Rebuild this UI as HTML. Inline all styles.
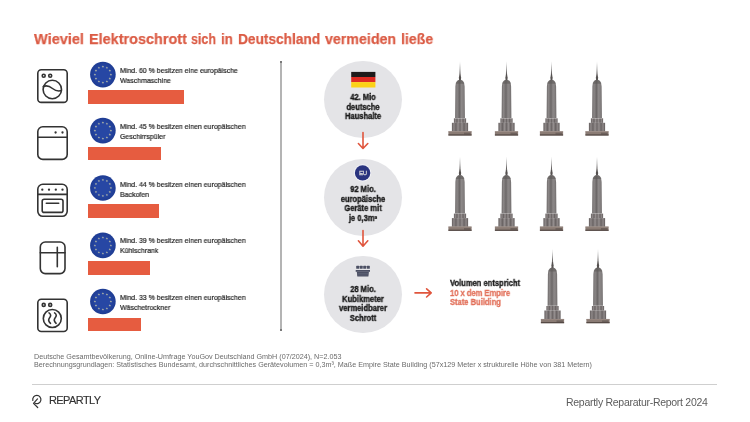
<!DOCTYPE html>
<html><head><meta charset="utf-8">
<style>
*{margin:0;padding:0;box-sizing:border-box}
html,body{width:750px;height:422px;overflow:hidden;background:#fff}
body{position:relative;font-family:"Liberation Sans",sans-serif;color:#333}
.a{position:absolute;white-space:nowrap}
.t{will-change:transform}
.title{transform-origin:0 0;top:29.4px;font-size:15.4px;line-height:20px;font-weight:700;color:#db5c45;-webkit-text-stroke:0.25px #db5c45;}
.rt{left:119.5px;font-size:7.5px;line-height:9.6px;color:#1e1e1e;-webkit-text-stroke:0.2px #1e1e1e;transform:scaleX(0.93);transform-origin:0 0}
.bar{position:absolute;left:88.2px;height:13.6px;background:#e65c40}
.circ{position:absolute;left:324.4px;width:77.2px;height:77.2px;border-radius:50%;background:#e4e4e7}
.ct{position:absolute;left:313px;width:100px;text-align:center;font-size:8.6px;line-height:9.5px;font-weight:700;color:#1a1a1a;-webkit-text-stroke:0.38px #1a1a1a;transform:scaleX(0.88);transform-origin:50% 0}
.foot{left:34px;font-size:7.2px;line-height:8.2px;color:#6a6a6a}
</style></head><body>

<div class="a title t" style="left:34.00px;transform:scaleX(0.946)">Wieviel</div>
<div class="a title t" style="left:89.46px;transform:scaleX(0.938)">Elektroschrott</div>
<div class="a title t" style="left:191.09px;transform:scaleX(0.810)">sich</div>
<div class="a title t" style="left:220.53px;transform:scaleX(0.867)">in</div>
<div class="a title t" style="left:237.71px;transform:scaleX(0.889)">Deutschland</div>
<div class="a title t" style="left:325.40px;transform:scaleX(0.924)">vermeiden</div>
<div class="a title t" style="left:400.68px;transform:scaleX(0.918)">ließe</div>


<div class="a rt t" style="top:65.75px">Mind. 60 % besitzen eine europäische<br>Waschmaschine</div>
<div class="bar" style="top:90.0px;width:96.3px"></div>
<div class="a rt t" style="top:121.85px">Mind. 45 % besitzen einen europäischen<br>Geschirrspüler</div>
<div class="bar" style="top:146.5px;width:72.4px"></div>
<div class="a rt t" style="top:179.65px">Mind. 44 % besitzen einen europäischen<br>Backofen</div>
<div class="bar" style="top:204.2px;width:70.7px"></div>
<div class="a rt t" style="top:236.45px">Mind. 39 % besitzen einen europäischen<br>Kühlschrank</div>
<div class="bar" style="top:261.3px;width:62.3px"></div>
<div class="a rt t" style="top:292.95px">Mind. 33 % besitzen einen europäischen<br>Wäschetrockner</div>
<div class="bar" style="top:317.5px;width:52.8px"></div>

<div class="a" style="left:280px;top:61.3px;width:2px;height:269.3px;background:#b4b4b4"></div>
<div class="a" style="left:279.6px;top:61px;width:2.8px;height:1.8px;background:#666;border-radius:1px"></div>
<div class="a" style="left:279.6px;top:329px;width:2.8px;height:1.8px;background:#666;border-radius:1px"></div>

<div class="circ" style="top:61.3px"></div>
<div class="circ" style="top:158.5px"></div>
<div class="circ" style="top:255.5px"></div>

<svg class="a" style="left:0;top:0" width="750" height="422" viewBox="0 0 750 422">
<defs>
 <radialGradient id="eub"><stop offset="0.55" stop-color="#2747a4"/><stop offset="1" stop-color="#1e3c93"/></radialGradient>
 <g id="eu"><circle r="12.8" fill="url(#eub)"/><path d="M0.0 -9.2L0.3 -8.5L1.2 -8.4L0.5 -7.8L0.7 -7.0L0.0 -7.4L-0.7 -7.0L-0.5 -7.8L-1.2 -8.4L-0.3 -8.5ZM4.0 -8.2L4.3 -7.4L5.2 -7.3L4.5 -6.8L4.7 -5.9L4.0 -6.4L3.3 -5.9L3.5 -6.8L2.8 -7.3L3.7 -7.4ZM6.9 -5.2L7.3 -4.5L8.1 -4.4L7.5 -3.8L7.7 -3.0L6.9 -3.4L6.2 -3.0L6.4 -3.8L5.7 -4.4L6.6 -4.5ZM8.0 -1.2L8.3 -0.5L9.2 -0.4L8.5 0.2L8.7 1.0L8.0 0.6L7.3 1.0L7.5 0.2L6.8 -0.4L7.7 -0.5ZM6.9 2.7L7.3 3.5L8.1 3.6L7.5 4.2L7.7 5.0L6.9 4.6L6.2 5.0L6.4 4.2L5.7 3.6L6.6 3.5ZM4.0 5.7L4.3 6.5L5.2 6.5L4.5 7.1L4.7 7.9L4.0 7.5L3.3 7.9L3.5 7.1L2.8 6.5L3.7 6.5ZM0.0 6.8L0.3 7.5L1.2 7.6L0.5 8.2L0.7 9.0L0.0 8.6L-0.7 9.0L-0.5 8.2L-1.2 7.6L-0.3 7.5ZM-4.0 5.7L-3.7 6.5L-2.8 6.5L-3.5 7.1L-3.3 7.9L-4.0 7.5L-4.7 7.9L-4.5 7.1L-5.2 6.5L-4.3 6.5ZM-6.9 2.8L-6.6 3.5L-5.7 3.6L-6.4 4.2L-6.2 5.0L-6.9 4.6L-7.7 5.0L-7.5 4.2L-8.1 3.6L-7.3 3.5ZM-8.0 -1.2L-7.7 -0.5L-6.8 -0.4L-7.5 0.2L-7.3 1.0L-8.0 0.6L-8.7 1.0L-8.5 0.2L-9.2 -0.4L-8.3 -0.5ZM-6.9 -5.3L-6.6 -4.5L-5.7 -4.4L-6.4 -3.8L-6.2 -3.0L-6.9 -3.4L-7.7 -3.0L-7.5 -3.8L-8.1 -4.4L-7.3 -4.5ZM-4.0 -8.2L-3.7 -7.4L-2.8 -7.3L-3.5 -6.8L-3.3 -5.9L-4.0 -6.4L-4.7 -5.9L-4.5 -6.8L-5.2 -7.3L-4.3 -7.4Z" fill="#d6d4a8" fill-opacity="0.8"/></g>
 <linearGradient id="spire" x1="0" y1="0" x2="0" y2="1"><stop offset="0" stop-color="#999" stop-opacity="0.1"/><stop offset="0.35" stop-color="#888" stop-opacity="0.6"/><stop offset="1" stop-color="#5a5656"/></linearGradient>
 <linearGradient id="shaft" x1="0" y1="0" x2="1" y2="0">
  <stop offset="0" stop-color="#6e6a6a"/><stop offset="0.2" stop-color="#8a8686"/><stop offset="0.45" stop-color="#6c6868"/><stop offset="0.65" stop-color="#8c8888"/><stop offset="0.85" stop-color="#837f7f"/><stop offset="1" stop-color="#6c6868"/></linearGradient>
 <linearGradient id="sb" x1="0" y1="0" x2="1" y2="0">
  <stop offset="0" stop-color="#625c5c"/><stop offset="0.12" stop-color="#8e8888"/><stop offset="0.25" stop-color="#6a6464"/><stop offset="0.38" stop-color="#948e8e"/><stop offset="0.5" stop-color="#6e6868"/><stop offset="0.62" stop-color="#948e8e"/><stop offset="0.75" stop-color="#6a6464"/><stop offset="0.88" stop-color="#8e8888"/><stop offset="1" stop-color="#5e5858"/></linearGradient>
 <g id="bld">
  <path d="M-0.2 -19.5 L0.2 -19.5 L0.55 -7 L-0.55 -7Z" fill="url(#spire)"/>
  <path d="M-0.55 -7.2 L0.55 -7.2 L0.9 -4.6 L1.2 -3.4 L0.9 -1.6 L1.3 -0.9 L-1.3 -0.9 L-0.9 -1.6 L-1.2 -3.4 L-0.9 -4.6Z" fill="#555150"/>
  <path d="M-1.2 -1.1 C-3 -0.6 -4.6 2 -4.6 5.5 L-4.9 37 L4.9 37 L4.6 5.5 C4.6 2 3 -0.6 1.2 -1.1Z" fill="url(#shaft)"/>
  <path d="M-1.2 -1.1 C-3 -0.6 -4.1 1 -4.4 2.6 L4.4 2.6 C4.1 1 3 -0.6 1.2 -1.1Z" fill="#5e5a58" fill-opacity="0.6"/>
  <rect x="-6.1" y="37.2" width="12.2" height="4.6" fill="url(#sb)"/>
  <rect x="-8.1" y="41.7" width="16.2" height="8.7" fill="url(#sb)"/>
  <rect x="-11.6" y="50.2" width="23.2" height="4.2" fill="#8a7b74"/>
  <path d="M-11.6 50.6 H11.6" stroke="#9c8c85" stroke-width="0.7"/>
  <rect x="4" y="51.6" width="6.5" height="1.8" fill="#6e625d"/>
  <rect x="-11.6" y="53.3" width="23.2" height="1.1" fill="#4f4541"/>
 </g>
</defs>

<g fill="none" stroke="#333" stroke-width="1.6" stroke-linecap="round" stroke-linejoin="round">
 <rect x="37.8" y="69.8" width="29.4" height="32.6" rx="3.5"/>
 <circle cx="43.7" cy="75.8" r="1.5"/><circle cx="50.2" cy="75.8" r="1.5"/>
 <circle cx="52.3" cy="89.5" r="9.2"/>
 <path d="M43.3 86.6 C47 84.8 50 86.5 52.5 88.5 S58 91.6 61.4 90.6"/>

 <rect x="37.8" y="126.8" width="29.4" height="32.6" rx="5"/>
 <path d="M37.8 137.3 H67.2"/>

 <rect x="37.8" y="184.3" width="29.4" height="32" rx="5"/>
 <path d="M37.8 194.4 H67.2"/>
 <rect x="42.2" y="199.2" width="20.8" height="13.2" rx="2"/>
 <path d="M46.3 203.2 H58.7"/>

 <rect x="40.3" y="242" width="24.7" height="31.6" rx="5"/>
 <path d="M40.3 252.8 H65 M57.3 247.3 V266.8"/>

 <rect x="37.8" y="299.3" width="29.4" height="32.2" rx="3.5"/>
 <circle cx="43.7" cy="304.9" r="1.5"/><circle cx="50.2" cy="304.9" r="1.5"/>
 <circle cx="52.3" cy="318.5" r="9"/>
 <path d="M49 312.9 C51.3 314.4 50.9 316.2 49.6 317.8 S48.1 321.2 50.5 323.3"/>
 <path d="M54.6 312.9 C56.9 314.4 56.5 316.2 55.2 317.8 S53.7 321.2 56.1 323.3"/>
</g>
<g fill="#333">
 <circle cx="55.6" cy="132.5" r="1.15"/><circle cx="62.5" cy="132.5" r="1.15"/>
 <circle cx="42.3" cy="189.7" r="1.15"/><circle cx="49" cy="189.7" r="1.15"/><circle cx="55.8" cy="189.7" r="1.15"/><circle cx="62.5" cy="189.7" r="1.15"/>
</g>

<use href="#eu" x="102.9" y="74.6"/>
<use href="#eu" x="102.9" y="130.6"/>
<use href="#eu" x="102.9" y="188.0"/>
<use href="#eu" x="102.9" y="245.4"/>
<use href="#eu" x="102.9" y="301.5"/>

<rect x="351.2" y="71.9" width="24.2" height="5.1" fill="#1e1a1a"/>
<rect x="351.2" y="77" width="24.2" height="5.1" fill="#dd2a22"/>
<rect x="351.2" y="82.1" width="24.2" height="5.4" fill="#fcd116"/>

<circle cx="362.6" cy="172.9" r="8.6" fill="#f4f4f8"/>
<circle cx="362.6" cy="172.9" r="7.7" fill="#2a347f"/>
<text x="363" y="175.1" text-anchor="middle" font-family="Liberation Sans" font-size="6.1" font-weight="400" fill="#8a8ca8" stroke="#c8c8d2" stroke-width="0.45" letter-spacing="-0.2">EU</text>

<g fill="#4b4f63">
 <rect x="356.2" y="265.7" width="3" height="3.1" rx="0.6"/><rect x="359.7" y="265.7" width="3" height="3.1" rx="0.6"/>
 <rect x="363.2" y="265.7" width="3" height="3.1" rx="0.6"/><rect x="366.8" y="265.7" width="3" height="3.1" rx="0.6"/>
 <rect x="355.7" y="270" width="14.3" height="1.8"/>
 <path d="M356.8 271.8 H368.9 L368.4 276.6 H357.3Z"/>
</g>
<path d="M357.6 273.4 H368.1 M357.8 275 H367.9" stroke="#6a6e80" stroke-width="0.5"/>

<g fill="none" stroke="#e0553d" stroke-width="1.6" stroke-linecap="round" stroke-linejoin="round">
 <path d="M363 132.5 V148.3 M358.4 143.5 L363 148.5 L367.8 143.5"/>
 <path d="M363 230.5 V246 M358.4 240.8 L363 246.2 L367.8 240.8"/>
 <path d="M415 292.9 H431 M426.6 288.8 L431.2 292.9 L426.6 297"/>
</g>

<use href="#bld" x="460" y="81.1"/>
<use href="#bld" x="506.5" y="81.1"/>
<use href="#bld" x="551.5" y="81.1"/>
<use href="#bld" x="597" y="81.1"/>
<use href="#bld" x="460" y="176.4"/>
<use href="#bld" x="506.5" y="176.4"/>
<use href="#bld" x="551.5" y="176.4"/>
<use href="#bld" x="597" y="176.4"/>
<use href="#bld" x="552.5" y="268.8"/>
<use href="#bld" x="598" y="268.8"/>

<g fill="none" stroke="#333" stroke-width="1.2" stroke-linecap="round" stroke-linejoin="round">
 <path d="M32.85 400.5 A4.1 4.1 0 1 1 34.75 403.05"/>
 <path d="M37.5 398.9 L33.5 403.4 L37.7 407.5"/>
</g>
</svg>

<div class="ct t" style="top:93.2px">42. Mio<br>deutsche<br>Haushalte</div>
<div class="ct t" style="top:185.2px">92 Mio.<br>europäische<br>Geräte mit<br>je 0,3m³</div>
<div class="ct t" style="top:284.5px">28 Mio.<br>Kubikmeter<br>vermeidbarer<br>Schrott</div>

<div class="a t" style="left:449.5px;top:278.5px;font-size:8.8px;line-height:9.7px;font-weight:700;color:#1a1a1a;-webkit-text-stroke:0.35px #1a1a1a;transform:scaleX(0.86);transform-origin:0 0">Volumen entspricht<br><span style="color:#e2705a;-webkit-text-stroke:0.3px #e2705a">10 x dem Empire<br>State Building</span></div>

<div class="a foot t" style="top:352.5px">Deutsche Gesamtbevölkerung, Online-Umfrage YouGov Deutschland GmbH (07/2024), N=2.053<br>Berechnungsgrundlagen: Statistisches Bundesamt, durchschnittliches Gerätevolumen = 0,3m³, Maße Empire State Building (57x129 Meter x strukturelle Höhe von 381 Metern)</div>
<div class="a" style="left:32px;top:384px;width:685px;height:1px;background:#cfcfcf"></div>
<div class="a t" style="left:49px;top:392.7px;font-size:11px;line-height:14px;color:#333;-webkit-text-stroke:0.15px #333;letter-spacing:-0.58px">REPARTLY</div>
<div class="a t" style="left:566px;top:396.3px;font-size:10.5px;line-height:13px;color:#5c5c5c;letter-spacing:-0.28px">Repartly Reparatur-Report 2024</div>

</body></html>
